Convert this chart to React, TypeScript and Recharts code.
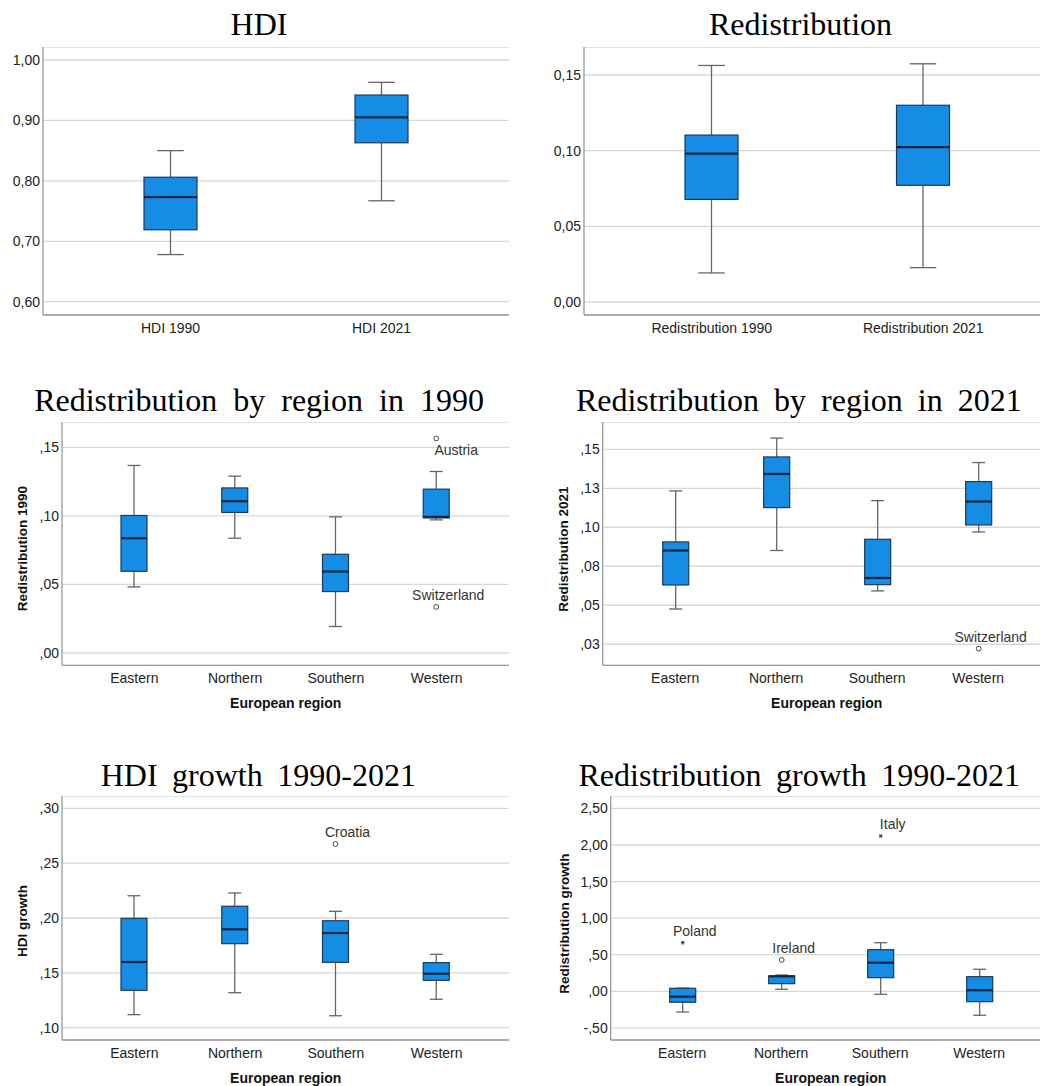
import { ComposedChart, Bar, XAxis, YAxis, CartesianGrid } from 'recharts'

const SANS = '"Liberation Sans", Arial, sans-serif'
const SERIF = '"Liberation Serif", "Times New Roman", serif'

type Outlier = { cat: string; value: number; name: string; mark: 'circle' | 'star' }

const regions = ['Eastern', 'Northern', 'Southern', 'Western']

// HDI 1990 vs 2021
const hdiCats = ['HDI 1990', 'HDI 2021']
const hdiLow = [0.678, 0.767]
const hdiQ1 = [0.719, 0.863]
const hdiMed = [0.773, 0.905]
const hdiQ3 = [0.806, 0.942]
const hdiHigh = [0.85, 0.963]
const hdiTicks = [0.6, 0.7, 0.8, 0.9, 1.0]
const hdiTickLabels = ['0,60', '0,70', '0,80', '0,90', '1,00']

// Redistribution 1990 vs 2021
const redCats = ['Redistribution 1990', 'Redistribution 2021']
const redLow = [0.0192, 0.0227]
const redQ1 = [0.0678, 0.0771]
const redMed = [0.098, 0.1024]
const redQ3 = [0.1103, 0.13]
const redHigh = [0.1563, 0.1574]
const redTicks = [0, 0.05, 0.1, 0.15]
const redTickLabels = ['0,00', '0,05', '0,10', '0,15']

// Redistribution by region, 1990
const r90Low = [0.0482, 0.0837, 0.0193, 0.0971]
const r90Q1 = [0.0596, 0.1025, 0.0448, 0.0985]
const r90Med = [0.0837, 0.1107, 0.0594, 0.0993]
const r90Q3 = [0.1003, 0.1204, 0.072, 0.1195]
const r90High = [0.1368, 0.129, 0.0993, 0.1324]
const r90Outliers: Outlier[] = [
  { cat: 'Western', value: 0.1565, name: 'Austria', mark: 'circle' },
  { cat: 'Western', value: 0.0336, name: 'Switzerland', mark: 'circle' },
]
const r90Ticks = [0, 0.05, 0.1, 0.15]
const r90TickLabels = [',00', ',05', ',10', ',15']

// Redistribution by region, 2021
const r21Low = [0.0476, 0.0851, 0.0592, 0.097]
const r21Q1 = [0.063, 0.1126, 0.0632, 0.1015]
const r21Med = [0.0851, 0.1342, 0.0675, 0.1165]
const r21Q3 = [0.0906, 0.1451, 0.0923, 0.1293]
const r21High = [0.1233, 0.1572, 0.1171, 0.1415]
const r21Outliers: Outlier[] = [
  { cat: 'Western', value: 0.0222, name: 'Switzerland', mark: 'circle' },
]
const r21Ticks = [0.025, 0.05, 0.075, 0.1, 0.125, 0.15]
const r21TickLabels = [',03', ',05', ',08', ',10', ',13', ',15']

// HDI growth 1990-2021
const hgLow = [0.1119, 0.1319, 0.1109, 0.1259]
const hgQ1 = [0.1341, 0.1766, 0.1596, 0.1432]
const hgMed = [0.1599, 0.1897, 0.1863, 0.1492]
const hgQ3 = [0.1997, 0.2107, 0.1975, 0.1593]
const hgHigh = [0.2203, 0.2228, 0.2061, 0.1669]
const hgOutliers: Outlier[] = [
  { cat: 'Southern', value: 0.2675, name: 'Croatia', mark: 'circle' },
]
const hgTicks = [0.1, 0.15, 0.2, 0.25, 0.3]
const hgTickLabels = [',10', ',15', ',20', ',25', ',30']

// Redistribution growth 1990-2021
const rgLow = [-0.283, 0.027, -0.041, -0.328]
const rgQ1 = [-0.15, 0.104, 0.186, -0.142]
const rgMed = [-0.074, 0.205, 0.391, 0.014]
const rgQ3 = [0.041, 0.209, 0.569, 0.2]
const rgHigh = [0.043, 0.223, 0.664, 0.301]
const rgOutliers: Outlier[] = [
  { cat: 'Eastern', value: 0.664, name: 'Poland', mark: 'star' },
  { cat: 'Northern', value: 0.428, name: 'Ireland', mark: 'circle' },
  { cat: 'Southern', value: 2.123, name: 'Italy', mark: 'star' },
]
const rgTicks = [-0.5, 0, 0.5, 1, 1.5, 2, 2.5]
const rgTickLabels = ['-,50', ',00', ',50', '1,00', '1,50', '2,00', '2,50']

// label offsets from the marker (px), default is up-right
const labelOffsets: Record<string, [number, number]> = { Austria: [20, 12] }

function buildRows(
  cats: string[], low: number[], q1: number[], med: number[], q3: number[], high: number[],
  outliers: Outlier[] = [],
) {
  return cats.map((cat, i) => ({
    cat,
    range: [low[i], high[i]],
    q1: q1[i],
    med: med[i],
    q3: q3[i],
    outliers: outliers.filter((o) => o.cat === cat),
  }))
}

function BoxShape(props: any) {
  const { x, y, width, height, payload } = props
  if (!payload) return null
  const [lo, hi] = payload.range
  const top = Math.min(y, y + height)
  const bottom = Math.max(y, y + height)
  // linear map derived from the bar the library placed for [lo, hi]
  const toY = (v: number) => top + ((hi - v) / (hi - lo)) * (bottom - top)
  const cx = x + width / 2
  const cap = width / 2
  const yQ1 = toY(payload.q1)
  const yQ3 = toY(payload.q3)
  const yMed = toY(payload.med)
  return (
    <g>
      <line x1={cx} x2={cx} y1={top} y2={yQ3} stroke="#666" strokeWidth={1.3} />
      <line x1={cx} x2={cx} y1={yQ1} y2={bottom} stroke="#666" strokeWidth={1.3} />
      <line x1={cx - cap / 2} x2={cx + cap / 2} y1={top} y2={top} stroke="#666" strokeWidth={1.3} />
      <line x1={cx - cap / 2} x2={cx + cap / 2} y1={bottom} y2={bottom} stroke="#666" strokeWidth={1.3} />
      <rect x={x} y={yQ3} width={width} height={Math.max(1, yQ1 - yQ3)} fill="#168de4" stroke="#1d3a5c" strokeWidth={1.2} />
      <line x1={x} x2={x + width} y1={yMed} y2={yMed} stroke="#12263f" strokeWidth={2.2} />
      {payload.outliers.map((o: Outlier) => {
        const oy = toY(o.value)
        const [dx, dy] = labelOffsets[o.name] ?? [12, -12]
        return (
          <g key={o.name}>
            {o.mark === 'circle' ? (
              <circle cx={cx} cy={oy} r={2.4} fill="#fff" stroke="#444" strokeWidth={1} />
            ) : (
              <g stroke="#333" strokeWidth={1}>
                <line x1={cx - 2} x2={cx + 2} y1={oy} y2={oy} />
                <line x1={cx - 1} x2={cx + 1} y1={oy - 1.8} y2={oy + 1.8} />
                <line x1={cx + 1} x2={cx - 1} y1={oy - 1.8} y2={oy + 1.8} />
              </g>
            )}
            <text x={cx + dx} y={oy + dy} textAnchor="middle" dominantBaseline="central"
              fontSize={14} fill="#333" fontFamily={SANS}>
              {o.name}
            </text>
          </g>
        )
      })}
    </g>
  )
}

interface PanelProps {
  rows: ReturnType<typeof buildRows>
  ticks: number[]
  tickLabels: string[]
  domain: [number, number]
  left: number
  top: number
  axisWidth: number
  plotWidth: number
  plotHeight: number
  barSize: number
}

function BoxPanel({ rows, ticks, tickLabels, domain, left, top, axisWidth, plotWidth, plotHeight, barSize }: PanelProps) {
  const xAxisHeight = 30
  return (
    <div style={{ position: 'absolute', left, top }}>
      <ComposedChart
        width={axisWidth + plotWidth}
        height={plotHeight + xAxisHeight}
        data={rows}
        margin={{ top: 0, right: 0, bottom: 0, left: 0 }}
        style={{ fontFamily: SANS }}
      >
        <CartesianGrid vertical={false} stroke="#d8d8d8" strokeWidth={1.3} />
        <XAxis
          dataKey="cat"
          height={xAxisHeight}
          interval={0}
          padding={{ left: 22, right: 22 }}
          tickLine={false}
          tickSize={0}
          tickMargin={8}
          axisLine={{ stroke: '#9a9a9a', strokeWidth: 1.3 }}
          tick={{ fontSize: 14, fill: '#222', fontFamily: SANS }}
        />
        <YAxis
          type="number"
          domain={domain}
          ticks={ticks}
          width={axisWidth}
          tickLine={false}
          tickSize={0}
          tickMargin={3}
          axisLine={{ stroke: '#9a9a9a', strokeWidth: 1.3 }}
          tick={{ fontSize: 14, fill: '#222', fontFamily: SANS }}
          tickFormatter={(v: number) => tickLabels[ticks.indexOf(v)] ?? String(v)}
        />
        <Bar dataKey="range" barSize={barSize} shape={<BoxShape />} isAnimationActive={false} />
      </ComposedChart>
    </div>
  )
}

const titles = [
  { text: 'HDI', x: 259, y: 35, ws: 0 },
  { text: 'Redistribution', x: 800.5, y: 35, ws: 0 },
  { text: 'Redistribution by region in 1990', x: 259, y: 410.7, ws: 8 },
  { text: 'Redistribution by region in 2021', x: 798.8, y: 410.7, ws: 7 },
  { text: 'HDI growth 1990-2021', x: 258.3, y: 785.7, ws: 6.5 },
  { text: 'Redistribution growth 1990-2021', x: 799.2, y: 785.7, ws: 6.5 },
]

const yTitles = [
  { text: 'Redistribution 1990', x: 22.7, y: 548.7 },
  { text: 'Redistribution 2021', x: 563.3, y: 549.2 },
  { text: 'HDI growth', x: 22.7, y: 921 },
  { text: 'Redistribution growth', x: 564.3, y: 923.7 },
]

const xTitles = [
  { text: 'European region', x: 285.7, y: 702.7 },
  { text: 'European region', x: 826.7, y: 702.7 },
  { text: 'European region', x: 285.7, y: 1078.3 },
  { text: 'European region', x: 830.7, y: 1078.3 },
]

export default function App() {
  return (
    <div style={{ position: 'absolute', left: 0, top: 0, width: 1040, height: 1086, overflow: 'hidden', background: '#fff' }}>
      <BoxPanel rows={buildRows(hdiCats, hdiLow, hdiQ1, hdiMed, hdiQ3, hdiHigh)}
        ticks={hdiTicks} tickLabels={hdiTickLabels} domain={[0.578, 1.0215]}
        left={0} top={47} axisWidth={43} plotWidth={466} plotHeight={268} barSize={53} />
      <BoxPanel rows={buildRows(redCats, redLow, redQ1, redMed, redQ3, redHigh)}
        ticks={redTicks} tickLabels={redTickLabels} domain={[-0.0086, 0.1685]}
        left={540} top={47} axisWidth={44} plotWidth={467} plotHeight={268} barSize={53} />
      <BoxPanel rows={buildRows(regions, r90Low, r90Q1, r90Med, r90Q3, r90High, r90Outliers)}
        ticks={r90Ticks} tickLabels={r90TickLabels} domain={[-0.009, 0.1685]}
        left={0} top={421.7} axisWidth={62} plotWidth={447} plotHeight={243.3} barSize={26} />
      <BoxPanel rows={buildRows(regions, r21Low, r21Q1, r21Med, r21Q3, r21High, r21Outliers)}
        ticks={r21Ticks} tickLabels={r21TickLabels} domain={[0.0115, 0.1675]}
        left={540} top={421.7} axisWidth={62.7} plotWidth={448} plotHeight={243.3} barSize={26} />
      <BoxPanel rows={buildRows(regions, hgLow, hgQ1, hgMed, hgQ3, hgHigh, hgOutliers)}
        ticks={hgTicks} tickLabels={hgTickLabels} domain={[0.0888, 0.3112]}
        left={0} top={796} axisWidth={62} plotWidth={447} plotHeight={244} barSize={26} />
      <BoxPanel rows={buildRows(regions, rgLow, rgQ1, rgMed, rgQ3, rgHigh, rgOutliers)}
        ticks={rgTicks} tickLabels={rgTickLabels} domain={[-0.666, 2.67]}
        left={540} top={796} axisWidth={70.7} plotWidth={440} plotHeight={244} barSize={26} />

      <svg width={1040} height={1086} style={{ position: 'absolute', left: 0, top: 0, pointerEvents: 'none' }}>
        {titles.map((t) => (
          <text key={t.text} x={t.x} y={t.y} textAnchor="middle" fontFamily={SERIF} fontSize={32}
            fill="#000" style={{ wordSpacing: t.ws }}>
            {t.text}
          </text>
        ))}
        {yTitles.map((t) => (
          <text key={t.text} x={t.x} y={t.y} textAnchor="middle" dominantBaseline="central"
            transform={`rotate(-90 ${t.x} ${t.y})`} fontFamily={SANS} fontWeight="bold" fontSize={13.5} fill="#111">
            {t.text}
          </text>
        ))}
        {xTitles.map((t, i) => (
          <text key={i} x={t.x} y={t.y} textAnchor="middle" dominantBaseline="central"
            fontFamily={SANS} fontWeight="bold" fontSize={14} fill="#111">
            {t.text}
          </text>
        ))}
      </svg>
    </div>
  )
}
